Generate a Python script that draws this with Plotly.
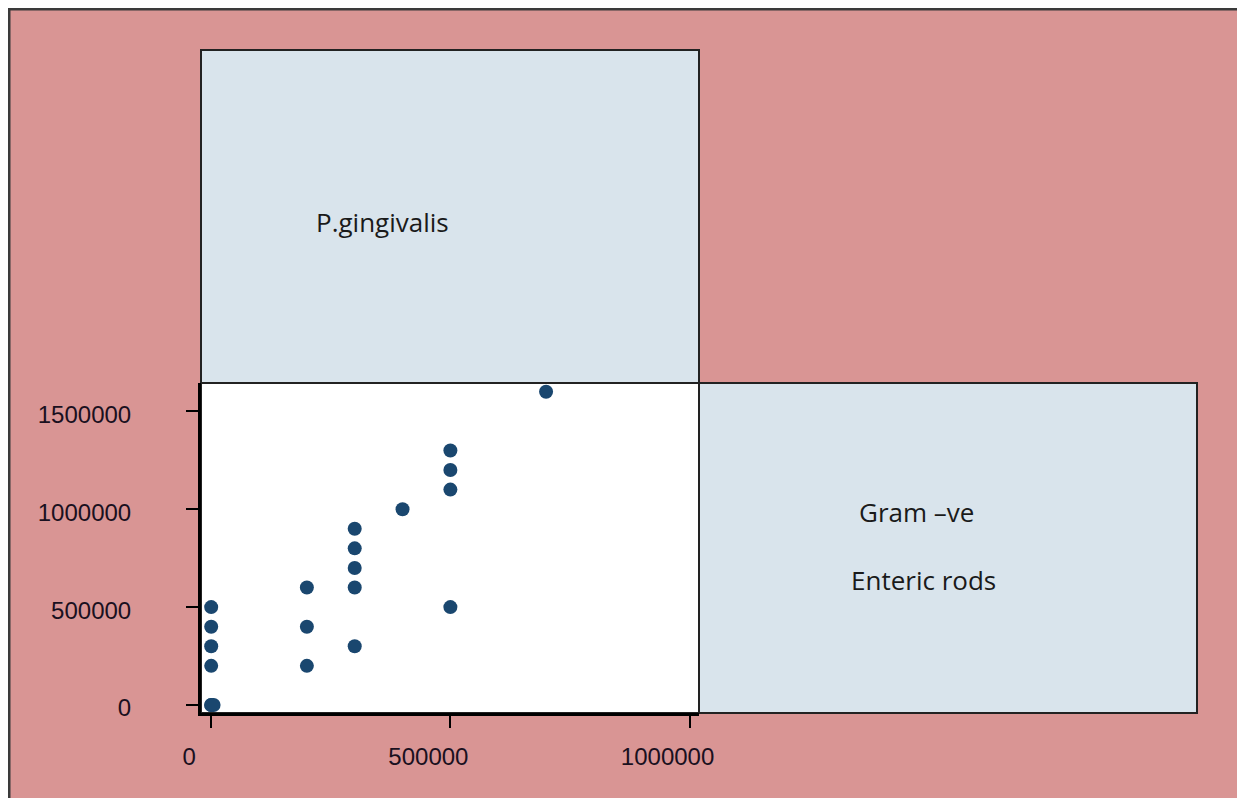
import plotly.graph_objects as go

# ---- data ----
pg_x = [0, 0, 0, 0, 0, 0, 5000,
        200000, 200000, 200000,
        300000, 300000, 300000, 300000, 300000,
        400000,
        500000, 500000, 500000, 500000,
        700000]
gram_y = [0, 200000, 300000, 400000, 500000, 0, 0,
          200000, 400000, 600000,
          300000, 600000, 700000, 800000, 900000,
          1000000,
          500000, 1100000, 1200000, 1300000,
          1600000]

x_tickvals = [0, 500000, 1000000]
x_ticktext = ["0", "500000", "1000000"]
y_tickvals = [0, 500000, 1000000, 1500000]
y_ticktext = ["0", "500000", "1000000", "1500000"]

diag_labels = ["P.gingivalis", "Gram \u2013ve", "Enteric rods"]

# ---- styling (page offset of 8px from body margin) ----
OFF = 8
W, H = 1229, 790
L, R, T, B = 201 - OFF, 699 - OFF, 383 - OFF, 713 - OFF   # plot area in figure pixels
PINK = "#D99594"
BOX = "#D9E4EC"
NAVY = "#1A476F"
FRAME = "#222222"


def px(v):  # page pixel -> paper x
    return (v - OFF - L) / (R - L)


def py(v):  # page pixel -> paper y
    return (B - (v - OFF)) / (B - T)


fig = go.Figure()
fig.add_trace(go.Scatter(
    x=pg_x, y=gram_y, mode="markers",
    marker=dict(color=NAVY, size=14, line=dict(width=0)),
    showlegend=False, hoverinfo="x+y",
))

shapes = [
    # outer pink background
    dict(type="rect", xref="paper", yref="paper", layer="below",
         x0=px(8), x1=px(1237), y0=py(798), y1=py(8),
         fillcolor=PINK, line=dict(width=0)),
    # frame lines left/top
    dict(type="line", xref="paper", yref="paper", layer="below",
         x0=px(9), x1=px(9), y0=py(798), y1=py(8),
         line=dict(color="#3a3a3a", width=3)),
    dict(type="line", xref="paper", yref="paper", layer="below",
         x0=px(8), x1=px(1237), y0=py(9), y1=py(9),
         line=dict(color="#3a3a3a", width=3)),
    # white plot cell
    dict(type="rect", xref="paper", yref="paper", layer="below",
         x0=0, x1=1, y0=0, y1=1,
         fillcolor="white", line=dict(color=FRAME, width=2)),
    # top diagonal cell
    dict(type="rect", xref="paper", yref="paper", layer="below",
         x0=0, x1=1, y0=1, y1=py(50),
         fillcolor=BOX, line=dict(color=FRAME, width=2)),
    # right diagonal cell
    dict(type="rect", xref="paper", yref="paper", layer="below",
         x0=1, x1=px(1197), y0=0, y1=1,
         fillcolor=BOX, line=dict(color=FRAME, width=2)),
]

txt_font = dict(family="Open Sans, Lato, sans-serif", size=26, color="#1a1a1a")
annotations = [
    dict(text=diag_labels[0], xref="paper", yref="paper", x=px(382), y=py(222),
         showarrow=False, font=txt_font, xanchor="center", yanchor="middle"),
    dict(text=diag_labels[1], xref="paper", yref="paper", x=px(916), y=py(512),
         showarrow=False, font=txt_font, xanchor="center", yanchor="middle"),
    dict(text=diag_labels[2], xref="paper", yref="paper", x=px(923), y=py(580),
         showarrow=False, font=txt_font, xanchor="center", yanchor="middle"),
]

tick_font = dict(family="Liberation Sans, Arial, sans-serif", size=24, color="#1a1020")

fig.update_layout(
    width=W, height=H, autosize=False,
    margin=dict(l=L, r=W - R, t=T, b=H - B, pad=0),
    paper_bgcolor="white", plot_bgcolor="white",
    shapes=shapes, annotations=annotations,
    xaxis=dict(range=[-21300, 1019700], tickvals=x_tickvals, ticktext=x_ticktext,
               showgrid=False, zeroline=False, showline=True, linecolor="black",
               linewidth=3, ticks="outside", ticklen=12, tickwidth=2,
               tickcolor="black", tickfont=tick_font, ticklabelshift=-22,
               ticklabelstandoff=8),
    yaxis=dict(range=[-40860, 1644500], tickvals=y_tickvals, ticktext=y_ticktext,
               showgrid=False, zeroline=False, showline=True, linecolor="black",
               linewidth=3, ticks="outside", ticklen=12, tickwidth=2,
               tickcolor="black", tickfont=tick_font, ticklabelshift=3,
               ticklabelstandoff=50),
)

fig.write_html("out.html")
